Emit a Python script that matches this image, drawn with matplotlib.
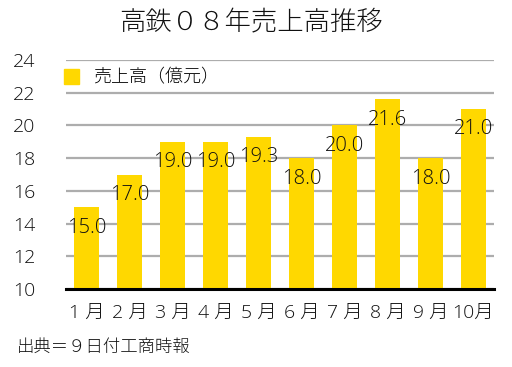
import matplotlib
matplotlib.use('Agg')
import matplotlib.pyplot as plt
from matplotlib.patches import Patch

plt.rcParams['font.family'] = ['Noto Sans CJK JP', 'DejaVu Sans']
num_family = ['Open Sans', 'Noto Sans CJK JP']

# data
months = ['1 月', '2 月', '3 月', '4 月', '5 月', '6 月', '7 月', '8 月', '9 月', '10月']
sales = [15.0, 17.0, 19.0, 19.0, 19.3, 18.0, 20.0, 21.6, 18.0, 21.0]
y_ticks = [10, 12, 14, 16, 18, 20, 22, 24]

title = '高鉄０８年売上高推移'
legend_label = '売上高（億元）'
source = '出典＝９日付工商時報'

bar_color = '#FFD800'
grid_color = '#ADADAD'

fig = plt.figure(figsize=(5.12, 3.67), dpi=100)
ax = fig.add_axes([0.129, 0.212, 0.836, 0.625])

x = range(len(months))
ax.bar(x, sales, width=0.58, color=bar_color, zorder=3)

# value labels sit across the top of each bar
for i, v in enumerate(sales):
    ax.annotate(f'{v:.1f}', (i, v), xytext=(0, -7.5), textcoords='offset points',
                ha='center', va='top', fontsize=14.5, fontweight='light',
                family=num_family, color='#111111', zorder=4)

ax.set_ylim(10, 24)
ax.set_xlim(-0.48, len(months) - 0.52)
ax.set_yticks(y_ticks)
ax.set_xticks(list(x))
ax.set_xticklabels(months)
ax.tick_params(axis='both', length=0, labelsize=14, colors='#111111')
ax.tick_params(axis='y', pad=22)
ax.tick_params(axis='x', pad=10.5)
for lab in ax.get_xticklabels() + ax.get_yticklabels():
    lab.set_fontweight('light')
    lab.set_family(num_family)

ax.yaxis.grid(True, color=grid_color, linewidth=1.6, zorder=1)
ax.set_axisbelow(True)
for side in ['left', 'right', 'top']:
    ax.spines[side].set_visible(False)
ax.spines['bottom'].set_linewidth(2.2)
ax.spines['bottom'].set_color('black')
ax.spines['bottom'].set_zorder(5)

leg = ax.legend(handles=[Patch(color=bar_color, label=legend_label)],
                loc='upper left', bbox_to_anchor=(-0.018, 0.985), frameon=False,
                borderaxespad=0, borderpad=0.3,
                prop={'size': 13, 'weight': 'light'},
                handlelength=0.85, handleheight=0.85, handletextpad=0.75)

fig.text(0.49, 0.94, title, ha='center', va='center', fontsize=19,
         fontweight='light', color='#111111')
fig.text(0.033, 0.055, source, ha='left', va='center', fontsize=12.5,
         fontweight='light', color='#111111')

fig.savefig('out.png', dpi=100)
